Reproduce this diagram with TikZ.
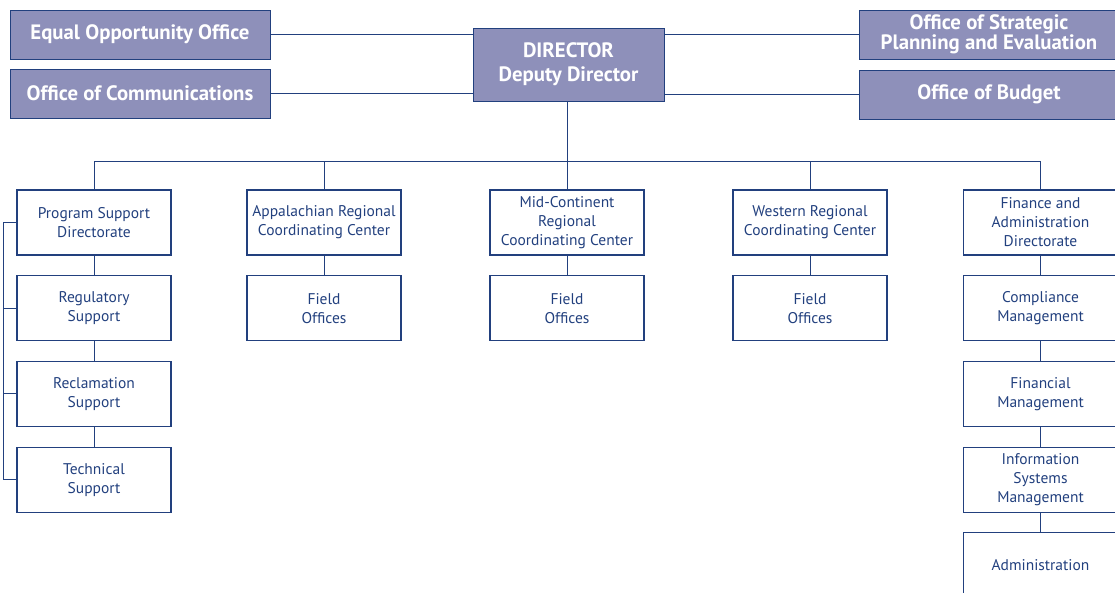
\documentclass[tikz,border=0pt]{standalone}
\usepackage{fontspec}
\setmainfont{PT Sans}
\usetikzlibrary{positioning}
\definecolor{navy}{HTML}{22407E}
\definecolor{lila}{HTML}{8E90BA}

\begin{document}
\begin{tikzpicture}[x=1pt, y=-1pt,
    topbox/.style={draw=navy, fill=lila, text=white, align=center, inner sep=0pt, minimum width=260pt, minimum height=49pt, font=\fontsize{20.8}{20}\selectfont\bfseries},
    unitbox/.style={draw=navy, line width=1.1pt, text=navy, align=center, inner sep=0pt, minimum width=154pt, minimum height=65pt, font=\fontsize{15.5}{19}\selectfont},
    link/.style={draw=navy, line width=1pt},
    node distance=19.6pt
]
\useasboundingbox (0,0) rectangle (1115,593);

% staff offices
\node[topbox] (eqop) at (140,34.5) {Equal Opportunity Office};
\node[topbox] (comm) at (140,93.5) {Office of Communications};
\node[topbox, minimum width=191pt, minimum height=73pt, font=\fontsize{20.8}{24}\selectfont\bfseries] (dir) at (568.5,64.5) {DIRECTOR\\Deputy Director};
\node[topbox] (plan) at (989,34.5) {Office of Strategic\\Planning and Evaluation};
\node[topbox] (budget) at (989,94.5) {Office of Budget};

% directorates and centers
\node[unitbox] (psd) at (94,222.5) {Program Support\\Directorate};
\node[unitbox, below=of psd] (reg) {Regulatory\\Support};
\node[unitbox, below=of reg] (recl) {Reclamation\\Support};
\node[unitbox, below=of recl] (tech) {Technical\\Support};

\node[unitbox] (arcc) at (324,222.5) {Appalachian Regional\\Coordinating Center};
\node[unitbox, below=of arcc] (arccf) {Field\\Offices};

\node[unitbox] (mcrcc) at (567,222.5) {Mid-Continent\\Regional\\Coordinating Center};
\node[unitbox, below=of mcrcc] (mcrccf) {Field\\Offices};

\node[unitbox] (wrcc) at (810,222.5) {Western Regional\\Coordinating Center};
\node[unitbox, below=of wrcc] (wrccf) {Field\\Offices};

\node[unitbox] (fad) at (1040.5,222.5) {Finance and\\Administration\\Directorate};
\node[unitbox, below=of fad] (comp) {Compliance\\Management};
\node[unitbox, below=of comp] (fin) {Financial\\Management};
\node[unitbox, below=of fin] (ism) {Information\\Systems\\Management};
\node[unitbox, below=of ism] (admin) {Administration};

% connectors
\draw[link] (eqop.east) -- (eqop.east -| dir.west);
\draw[link] (comm.east) -- (comm.east -| dir.west);
\draw[link] (plan.west) -- (plan.west -| dir.east);
\draw[link] (budget.west) -- (budget.west -| dir.east);

\coordinate (bus) at (567,162);
\draw[link] (dir.south -| bus) -- (bus);
\draw[link] (bus -| psd.north) -- (bus -| fad.north);
\foreach \n in {psd, arcc, mcrcc, wrcc, fad}
  \draw[link] (bus -| \n.north) -- (\n.north);

\foreach \a/\b in {psd/reg, reg/recl, recl/tech, arcc/arccf, mcrcc/mcrccf, wrcc/wrccf, fad/comp, comp/fin, fin/ism, ism/admin}
  \draw[link] (\a.south) -- (\b.north);

\coordinate (brk) at (3,0);
\draw[link] (psd.west -| brk) -- (tech.west -| brk);
\foreach \n in {psd, reg, recl, tech}
  \draw[link] (\n.west -| brk) -- (\n.west);
\end{tikzpicture}
\end{document}
